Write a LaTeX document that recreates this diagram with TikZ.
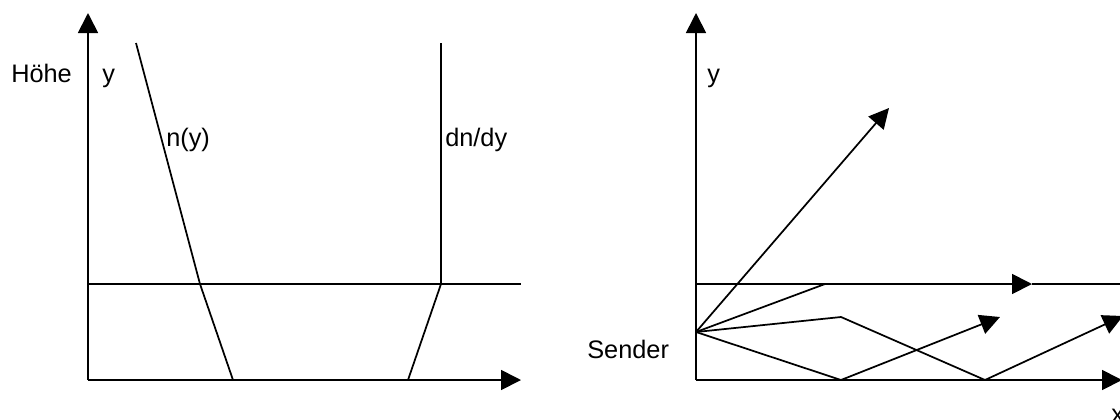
\documentclass[tikz,border=0pt]{standalone}
\usepackage{fontspec}
\setmainfont{Liberation Sans}
\usetikzlibrary{arrows.meta}
\begin{document}
\begin{tikzpicture}[x=0.75pt,y=-0.75pt,
  ln/.style={line width=1.3pt},
  arr/.style={ln,-{Triangle[length=15pt,width=15pt]}},
  lbl/.style={inner sep=0pt,anchor=base west,font=\fontsize{19}{22}\selectfont}]
\useasboundingbox (0,0) rectangle (1120,419);
% left panel
\coordinate (O1) at (88,380);
\coordinate (Y1) at (88,13);
\coordinate (X1) at (521,380);
\coordinate (H1a) at (88,284);
\coordinate (H1b) at (521,284);
\coordinate (N0) at (136,43);
\coordinate (N1) at (200,284);
\coordinate (N2) at (233,380);
\coordinate (D0) at (441,43);
\coordinate (D1) at (441,284);
\coordinate (D2) at (408,380);
\draw[arr] (O1) -- (Y1);
\draw[arr] (O1) -- (X1);
\draw[ln] (H1a) -- (H1b);
\draw[ln] (N0) -- (N1) -- (N2);
\draw[ln] (D0) -- (D1) -- (D2);
\node[lbl] (hoehe) at (11,82) {Höhe};
\node[lbl] (y1) at (102,82) {y};
\node[lbl] (ny) at (166,146) {n(y)};
\node[lbl] (dndy) at (445,146) {dn/dy};
% right panel
\coordinate (O2) at (696,380);
\coordinate (Y2) at (696,13);
\coordinate (X2) at (1122,380);
\coordinate (H2a) at (696,284);
\coordinate (H2m) at (1032,284);
\coordinate (H2b) at (1120,284);
\coordinate (S) at (696,332);
\coordinate (R1) at (889,108);
\coordinate (R2) at (825,284);
\coordinate (R3a) at (841,317);
\coordinate (R3b) at (985,380);
\coordinate (R3c) at (1123,316);
\coordinate (R4a) at (841,380);
\coordinate (R4b) at (1000,317);
\draw[arr] (O2) -- (Y2);
\draw[arr] (O2) -- (X2);
\draw[arr] (H2a) -- (H2m);
\draw[ln] (H2m) -- (H2b);
\draw[arr] (S) -- (R1);
\draw[ln] (S) -- (R2);
\draw[arr] (S) -- (R3a) -- (R3b) -- (R3c);
\draw[arr] (S) -- (R4a) -- (R4b);
\node[lbl] (y2) at (707,82) {y};
\node[lbl] (sender) at (587,358) {Sender};
\node[lbl] (xl) at (1111,422) {x};
\end{tikzpicture}
\end{document}
